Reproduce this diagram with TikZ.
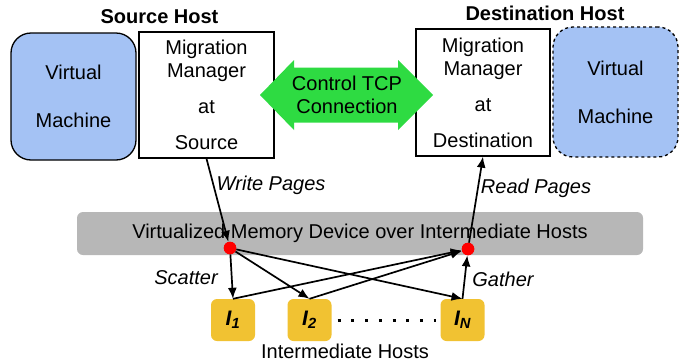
\documentclass[tikz,border=0pt]{standalone}
\usepackage{fontspec}
\setmainfont{Liberation Sans}
\usetikzlibrary{arrows.meta}
\definecolor{vmblue}{RGB}{164,194,244}
\definecolor{barGray}{RGB}{183,183,183}
\definecolor{hostYellow}{RGB}{241,194,50}
\definecolor{ctrlGreen}{RGB}{46,219,66}
\tikzset{
  every node/.style={font=\fontsize{20}{23}\selectfont},
  vmbox/.style={draw=black, line width=1.3pt, fill=vmblue, rounded corners=20pt, minimum width=125pt, align=center, inner sep=0pt},
  mmbox/.style={draw=black, line width=1.3pt, fill=white, align=center, inner sep=0pt},
  ibox/.style={fill=hostYellow, rounded corners=6pt, minimum width=44pt, minimum height=42pt, inner sep=0pt, font=\fontsize{21}{23}\selectfont\bfseries\itshape},
  reddot/.style={circle, fill=red, minimum size=12.5pt, inner sep=0pt},
  arr/.style={line width=1.7pt, -{Latex[length=11pt,width=9pt]}},
  lbl/.style={inner sep=0pt, font=\fontsize{20}{23}\selectfont\itshape},
  hdr/.style={inner sep=0pt, font=\fontsize{20}{23}\selectfont\bfseries},
}
\begin{document}
\begin{tikzpicture}[x=1pt,y=-1pt]
\useasboundingbox (0,0) rectangle (694,362);
% hosts
\node[vmbox, minimum height=127pt] (vml) at (73.5,96.5) {Virtual\\[25pt]Machine};
\node[mmbox, minimum width=135pt, minimum height=126pt] (mms) at (206.5,95) {Migration\\Manager\\[13pt]at\\[13pt]Source};
\node[mmbox, minimum width=134pt, minimum height=127pt] (mmd) at (483,92.5) {Migration\\Manager\\[13pt]at\\[13pt]Destination};
\node[vmbox, dashed, minimum height=130pt] (vmr) at (615.5,92) {Virtual\\[25pt]Machine};
\node[hdr] (srch) at (159.5,17) {Source Host};
\node[hdr] (dsth) at (545,13) {Destination Host};
% control connection
\fill[ctrlGreen] (260,95) -- (294,60) -- (294,67.5) -- (398,67.5) -- (398,60) -- (433,95)
  -- (398,130) -- (398,122.5) -- (294,122.5) -- (294,130) -- cycle;
\node[align=center, inner sep=0pt] (ctrl) at (347,95) {Control TCP\\Connection};
% memory bar
\node[fill=barGray, rounded corners=6pt, minimum width=566pt, minimum height=43pt, inner sep=0pt] (vmem) at (360,233.5) {Virtualized Memory Device over Intermediate Hosts};
% intermediate hosts
\node[ibox] (i1) at (233,320) {I\textsubscript{1}};
\node[ibox] (i2) at (309.5,320) {I\textsubscript{2}};
\node[ibox] (iN) at (462.5,320) {I\textsubscript{N}};
\draw[line width=3pt, dash pattern=on 3pt off 10.7pt] ([xshift=6pt]i2.east) -- ([xshift=-4pt]iN.west);
\node[inner sep=0pt] (ihosts) at (345,351) {Intermediate Hosts};
% dots
\node[reddot] (ldot) at (230,248) {};
\node[reddot] (rdot) at (468,249) {};
% arrows
\draw[arr] (mms.south) -- (ldot);
\draw[arr] (rdot) -- (mmd.south);
\draw[arr] (ldot) -- (i1.north);
\draw[arr] (ldot) -- (i2.north);
\draw[arr] (ldot) -- (iN.north);
\draw[arr] (i1.north) -- (rdot);
\draw[arr] (i2.north) -- (rdot);
\draw[arr] (iN.north) -- (rdot);
\node[reddot] at (ldot) {};
\node[reddot] at (rdot) {};
% labels
\node[lbl] (wp) at (271,185) {Write Pages};
\node[lbl] (rp) at (536,188) {Read Pages};
\node[lbl] (sc) at (186,278) {Scatter};
\node[lbl] (ga) at (503,279) {Gather};
\end{tikzpicture}
\end{document}
